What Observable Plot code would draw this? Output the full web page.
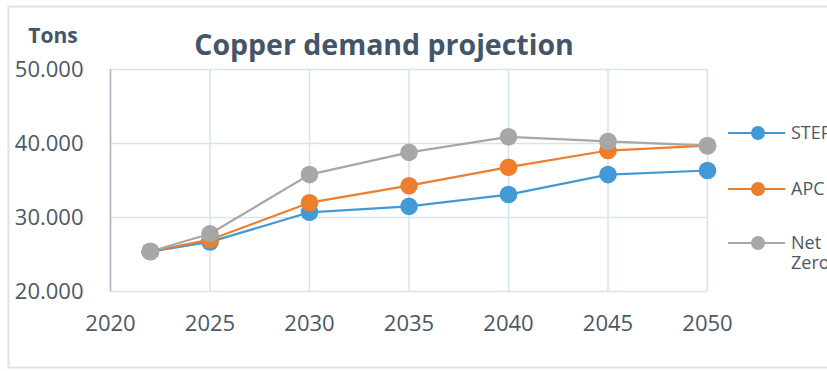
<!DOCTYPE html>
<html>
<head>
<meta charset="utf-8">
<script src="https://cdn.jsdelivr.net/npm/d3@7"></script>
<script src="https://cdn.jsdelivr.net/npm/@observablehq/plot@0.6"></script>
<style>
  html, body { margin: 0; padding: 0; background: #ffffff; overflow: hidden; }
  #chart svg { display: block; }
</style>
</head>
<body>
<div id="chart"></div>
<script>
// Copper demand by scenario, tons
const years = [2022, 2025, 2030, 2035, 2040, 2045, 2050];
const steps = [25400, 26700, 30700, 31500, 33100, 35800, 36350];
const apc = [25400, 27000, 32000, 34300, 36800, 39050, 39700];
const netZero = [25400, 27800, 35800, 38800, 40900, 40300, 39700];

const seriesNames = ["STEPS", "APC", "Net Zero"];
const seriesColors = ["#4399d6", "#ee7d2c", "#a7a7a7"];
const legendLines = [["STEPS"], ["APC"], ["Net", "Zero"]];

const xTicks = [2020, 2025, 2030, 2035, 2040, 2045, 2050];
const yTicks = [20000, 30000, 40000, 50000];
const yTickLabels = ["20.000", "30.000", "40.000", "50.000"];

const title = "Copper demand projection";
const yUnit = "Tons";

const rows = [];
[steps, apc, netZero].forEach((vals, i) => {
  years.forEach((y, j) => rows.push({series: seriesNames[i], year: y, value: vals[j]}));
});

const textColor = "#4b5868";
const gridColor = "#d5e5ec";
const font = "'Open Sans', sans-serif";

const W = 827, H = 371;
const chart = Plot.plot({
  width: W,
  height: H,
  marginLeft: 110,
  marginRight: 120,
  marginTop: 69,
  marginBottom: 80,
  style: {fontFamily: font, background: "#ffffff", overflow: "hidden"},
  x: {domain: [2020, 2050], ticks: xTicks, label: null},
  y: {domain: [20000, 50000], ticks: yTicks, label: null},
  color: {domain: seriesNames, range: seriesColors},
  marks: [
    Plot.gridX(xTicks, {stroke: gridColor, strokeOpacity: 1, strokeWidth: 1.5}),
    Plot.gridY(yTicks, {stroke: gridColor, strokeOpacity: 1, strokeWidth: 1.5}),
    Plot.ruleX([2020], {stroke: "#a9b8c6", strokeWidth: 1.5}),
    Plot.axisX({ticks: xTicks, tickSize: 0, tickPadding: 24, fontSize: 22, fill: textColor, tickFormat: d => String(d)}),
    Plot.axisY({ticks: yTicks, tickSize: 0, tickPadding: 27, fontSize: 22, fill: textColor,
      tickFormat: d => yTickLabels[yTicks.indexOf(d)]}),
    Plot.line(rows, {x: "year", y: "value", z: "series", stroke: "series", strokeWidth: 2.2}),
    Plot.dot(rows, {x: "year", y: "value", fill: "series", r: 8.8, stroke: "none"})
  ]
});
document.getElementById("chart").appendChild(chart);

// Frame, title, unit label and legend drawn on top of the plot SVG
const svg = d3.select(chart);
svg.insert("rect", ":first-child")
  .attr("x", 8.5).attr("y", 6.5).attr("width", W + 20).attr("height", 361)
  .attr("fill", "#ffffff").attr("stroke", "#d9e6ec").attr("stroke-width", 2);

svg.append("text")
  .attr("x", 384).attr("y", 55)
  .attr("text-anchor", "middle")
  .attr("font-family", font).attr("font-weight", 700).attr("font-size", 28.5)
  .attr("fill", "#44546a")
  .text(title);

svg.append("text")
  .attr("x", 53).attr("y", 43)
  .attr("text-anchor", "middle")
  .attr("font-family", font).attr("font-weight", 700).attr("font-size", 21)
  .attr("fill", "#44546a")
  .text(yUnit);

const legendY = [133, 189, 243];
seriesNames.forEach((name, i) => {
  const g = svg.append("g").attr("transform", `translate(0,${legendY[i]})`);
  g.append("line").attr("x1", 728).attr("x2", 785).attr("y1", 0).attr("y2", 0)
    .attr("stroke", seriesColors[i]).attr("stroke-width", 2.2);
  g.append("circle").attr("cx", 758).attr("cy", 0).attr("r", 7).attr("fill", seriesColors[i]);
  const t = g.append("text")
    .attr("x", 791).attr("y", 6)
    .attr("text-anchor", "start")
    .attr("font-family", font).attr("font-size", 18).attr("fill", textColor);
  legendLines[i].forEach((ln, k) => {
    t.append("tspan").attr("x", 791).attr("dy", k === 0 ? 0 : 20).text(ln);
  });
});
</script>
</body>
</html>
